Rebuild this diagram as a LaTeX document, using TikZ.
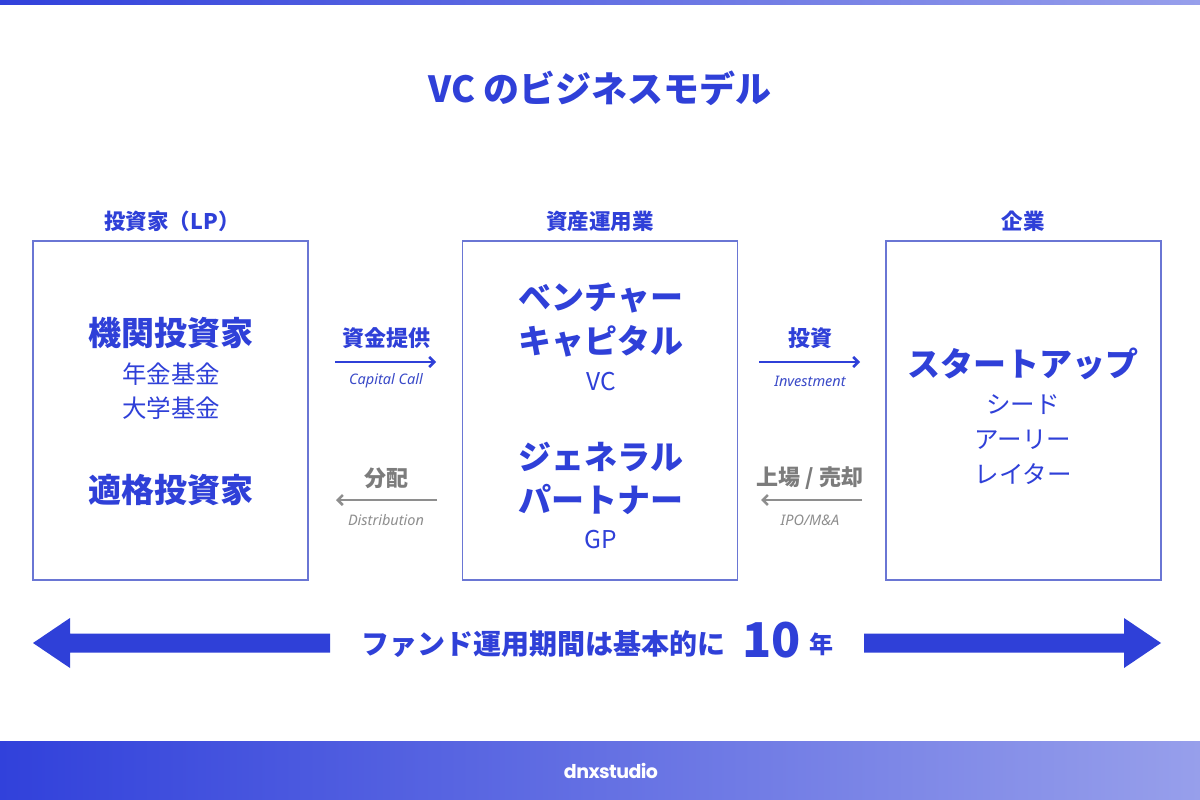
\documentclass[tikz,border=0pt]{standalone}
\usepackage{fontspec}
\setmainfont{Noto Sans CJK JP}
\newfontfamily\enfont{Noto Sans}
\newfontfamily\logofont{Poppins}[LetterSpace=-3.0]
\usetikzlibrary{arrows.meta}
\definecolor{mainblue}{HTML}{2F40D8}
\definecolor{boxblue}{HTML}{6A76D4}
\definecolor{subblue}{HTML}{3A4AC8}
\definecolor{txtgray}{HTML}{7C7C7C}
\definecolor{lightgray}{HTML}{8E8E8E}
\definecolor{gradL}{HTML}{3141DB}
\definecolor{gradR}{HTML}{979FEB}
\newcommand{\fs}[1]{\fontsize{#1}{#1}\selectfont}
\tikzset{
  mainbox/.style={draw=boxblue, line width=1.5pt, minimum width=275pt, minimum height=339pt, inner sep=0pt},
  headlabel/.style={text=mainblue, font=\fs{21.5}\bfseries},
  bigtxt/.style={text=mainblue, font=\fs{33}\bfseries, align=center},
  subtxt/.style={text=mainblue, font=\fs{24.5}, align=center},
  flowtxt/.style={text=mainblue, font=\fs{22}\bfseries},
  flowgray/.style={text=txtgray, font=\fs{22}\bfseries},
  entxt/.style={text=subblue, font=\enfont\itshape\fs{14.5}},
  engray/.style={text=lightgray, font=\enfont\itshape\fs{14.5}},
  bluearrow/.style={draw=mainblue, line width=2.5pt, -{Straight Barb[length=5pt,width=10pt,line width=2.5pt]}},
  grayarrow/.style={draw=lightgray, line width=2.5pt, -{Straight Barb[length=5pt,width=10pt,line width=2.5pt]}},
}
\begin{document}
\begin{tikzpicture}[x=1pt,y=-1pt]
\useasboundingbox (0,0) rectangle (1200,800);
\fill[white] (0,0) rectangle (1200,800);
% top bar
\shade[left color=gradL, right color=gradR] (0,0) rectangle (1200,5);
% bottom bar
\shade[left color=gradL, right color=gradR] (0,741) rectangle (1200,800);
\node[text=white, font=\logofont\bfseries\fs{19}] (logo) at (611,771) {dnxstudio};

% title
\node[text=mainblue, font=\fs{36}\bfseries] (title) at (600,88) {VC のビジネスモデル};

% boxes
\node[mainbox] (lp) at (170.5,410.5) {};
\node[mainbox] (vc) at (600,410.5) {};
\node[mainbox] (co) at (1023.5,410.5) {};

\node[headlabel] (lph) at (172,221) {投資家（LP）};
\node[headlabel] (vch) at (600,221) {資産運用業};
\node[headlabel] (coh) at (1023,221) {企業};

% left box contents
\node[bigtxt] (kikan) at (171,333) {機関投資家};
\node[subtxt] (nenkin) at (171,374) {年金基金};
\node[subtxt] (daigaku) at (171,408) {大学基金};
\node[bigtxt] (tekikaku) at (171,490) {適格投資家};

% middle box contents
\node[bigtxt] (venture) at (601,298) {ベンチャー};
\node[bigtxt] (capital) at (601,341) {キャピタル};
\node[subtxt] (vcl) at (601,382) {VC};
\node[bigtxt] (general) at (601,457) {ジェネラル};
\node[bigtxt] (partner) at (601,499) {パートナー};
\node[subtxt] (gpl) at (601,540) {GP};

% right box contents
\node[bigtxt] (startup) at (1023,364) {スタートアップ};
\node[subtxt] (seed) at (1023,405) {シード};
\node[subtxt] (early) at (1023,440) {アーリー};
\node[subtxt] (later) at (1023,474) {レイター};

% flows left
\node[flowtxt] (shikin) at (386,338) {資金提供};
\coordinate (a1s) at (335,362);
\coordinate (a1e) at (436,362);
\draw[bluearrow] (a1s) -- (a1e);
\node[entxt] (capcall) at (386,381) {Capital Call};

\node[flowgray] (bunpai) at (386,478) {分配};
\coordinate (a2s) at (437,500);
\coordinate (a2e) at (336,500);
\draw[grayarrow] (a2s) -- (a2e);
\node[engray] (distr) at (386,520) {Distribution};

% flows right
\node[flowtxt] (toushi) at (810,338) {投資};
\coordinate (a3s) at (759,362);
\coordinate (a3e) at (860,362);
\draw[bluearrow] (a3s) -- (a3e);
\node[entxt] (invest) at (810,381) {Investment};

\node[flowgray] (joujou) at (810,478) {上場 / 売却};
\coordinate (a4s) at (862,500);
\coordinate (a4e) at (761,500);
\draw[grayarrow] (a4s) -- (a4e);
\node[engray] (ipo) at (810,520) {IPO/M\&A};

% bottom big arrows
\fill[mainblue] (330,633.5) -- (70,633.5) -- (70,618) -- (33,643) -- (70,668) -- (70,652.5) -- (330,652.5) -- cycle;
\fill[mainblue] (864,633.5) -- (1124,633.5) -- (1124,618) -- (1161,643) -- (1124,668) -- (1124,652.5) -- (864,652.5) -- cycle;
\node[text=mainblue, font=\fs{28}\bfseries, inner sep=0pt, anchor=base west] (fund) at (361,654) {ファンド運用期間は基本的に};
\node[text=mainblue, font=\fs{48}\bfseries, inner sep=0pt, anchor=base west] (ten) at (742,657) {10};
\node[text=mainblue, font=\fs{24}\bfseries, inner sep=0pt, anchor=base west] (nen) at (809,653) {年};
\end{tikzpicture}
\end{document}
